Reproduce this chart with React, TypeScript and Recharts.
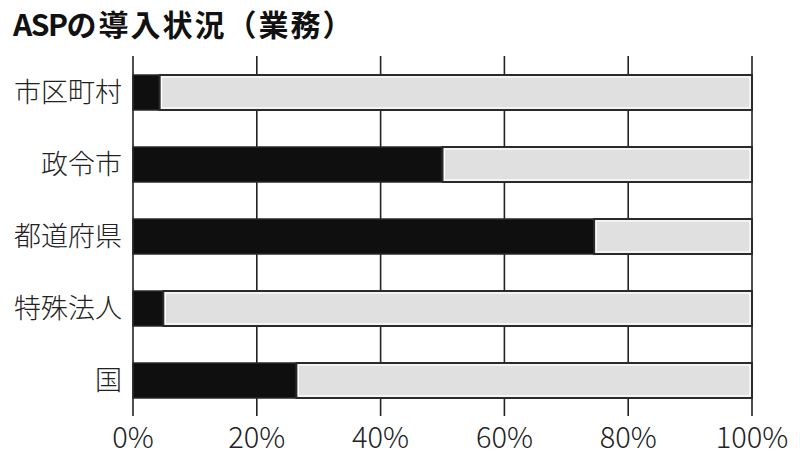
import React from 'react';
import { BarChart, Bar, XAxis, YAxis, CartesianGrid } from 'recharts';

// 導入状況（業務）: share of organisations using ASP, per category
const categories = ['市区町村', '政令市', '都道府県', '特殊法人', '国'];
const adopted = [4.3, 50, 74.5, 4.9, 26.4];
const notAdopted = [95.7, 50, 25.5, 95.1, 73.6];
const xTicks = [0, 20, 40, 60, 80, 100];

const data = categories.map((name, i) => ({
  name,
  adopted: adopted[i],
  notAdopted: notAdopted[i],
}));

const FONT = '"Noto Sans CJK JP", "Noto Sans", sans-serif';

// grey segment: dark outline with a thin white inner edge
const RestShape = (props: any) => {
  const { x, y, width, height } = props;
  if (!width || width <= 0) return null;
  return (
    <g>
      <rect x={x} y={y} width={width} height={height} fill="#e0e0e0" stroke="#2a2a2a" strokeWidth={2} />
      <rect x={x + 2} y={y + 2} width={width - 4} height={height - 4} fill="none" stroke="#fff" strokeWidth={1.2} />
    </g>
  );
};

export default function App() {
  return (
    <div style={{ position: 'relative', width: 800, height: 461, background: '#fff', fontFamily: FONT }}>
      <style>{'body{margin:0}'}</style>
      <div
        style={{
          position: 'absolute',
          left: 13,
          top: 8,
          fontSize: 30,
          lineHeight: 1,
          fontWeight: 700,
          color: '#111',
          letterSpacing: 2,
          whiteSpace: 'nowrap',
        }}
      >
        <span style={{ letterSpacing: -1.5 }}>ASP</span>の導入状況（業務）
      </div>
      <BarChart
        width={800}
        height={461}
        data={data}
        layout="vertical"
        barSize={35}
        margin={{ top: 56, right: 48, bottom: 0, left: 13 }}
      >
        <CartesianGrid horizontal={false} vertical stroke="#222" strokeWidth={1.6} />
        <XAxis
          type="number"
          domain={[0, 100]}
          ticks={xTicks}
          tickFormatter={(v) => `${v}%`}
          axisLine={false}
          tickLine={false}
          tickSize={0}
          tickMargin={11}
          height={45}
          interval={0}
          tick={{ fill: '#222', fontSize: 29, fontFamily: FONT, fontWeight: 300 }}
        />
        <YAxis
          type="category"
          dataKey="name"
          width={120}
          axisLine={false}
          tickLine={false}
          tickSize={0}
          tickMargin={11}
          tick={{ fill: '#222', fontSize: 27, fontFamily: FONT, fontWeight: 300 }}
        />
        <Bar dataKey="adopted" stackId="s" fill="#0f0f0f" stroke="#2a2a2a" strokeWidth={1.5} isAnimationActive={false} />
        <Bar dataKey="notAdopted" stackId="s" shape={RestShape} isAnimationActive={false} />
      </BarChart>
    </div>
  );
}
